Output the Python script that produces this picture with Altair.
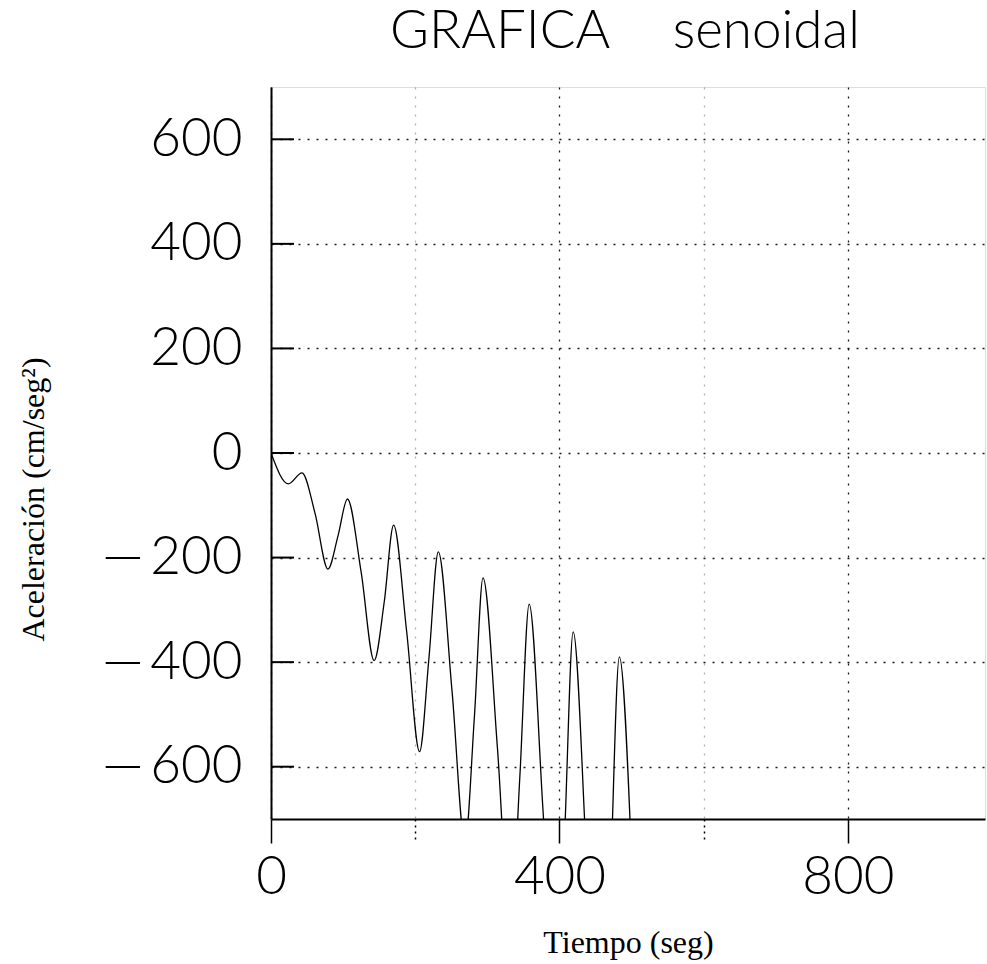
import altair as alt
import pandas as pd

# values (troughs below -700 are estimated; they are clipped)
t_seg = [0, 24, 43, 61, 79, 93, 106, 125, 143, 157, 170, 188, 206, 219, 232, 251,
         269, 282, 294, 314, 332, 345, 358, 377, 395, 407, 419, 438, 457, 470, 483, 500]
acel = [0, -59, -38, -115, -222, -158, -88, -228, -397, -285, -138, -340, -571, -392, -189, -455,
        -745, -505, -239, -565, -915, -620, -289, -680, -1090, -735, -342, -790, -1265, -845, -390, -775]

x_grid = [0, 200, 400, 600, 800]
y_ticks = [-600, -400, -200, 0, 200, 400, 600]
chart_title = ["GRAFICA\u00a0\u00a0\u00a0\u00a0\u2009senoidal"]

df = pd.DataFrame({"t": t_seg, "a": acel})
ticks_df = pd.DataFrame({"v": y_ticks})
title_df = pd.DataFrame({"label": chart_title})

FONT = "Lato"
SERIF = "Liberation Serif"

x_scale = alt.Scale(domain=[0, 990], nice=False, zero=False)
y_scale = alt.Scale(domain=[-700, 700], nice=False, zero=False)

x_axis = alt.Axis(
    values=x_grid,
    grid=True, gridColor="black", gridDash=[2, 7], gridWidth=1.3,
    gridOpacity={"condition": {"test": "datum.value % 400 === 0", "value": 0.9}, "value": 0.3},
    labelExpr="datum.value % 400 === 0 ? datum.label : ''",
    labelFont=FONT, labelFontWeight=300, labelFontSize=53, labelColor="black",
    labelBaseline="top", labelPadding=8, labelFlush=False, labelOverlap=False,
    tickSize=24, tickColor="black", tickWidth=1.5,
    tickDash={"condition": {"test": "datum.value % 400 === 0", "value": [1, 0]}, "value": [2, 4]},
    domain=True, domainColor="black", domainWidth=2,
    title="Tiempo (seg)", titleFont=SERIF, titleFontSize=32, titleFontWeight="normal",
    titleColor="black", titleBaseline="alphabetic", titleY=133,
)

y_axis = alt.Axis(
    values=y_ticks,
    grid=True, gridColor="black", gridDash=[2, 7], gridWidth=1.3, gridOpacity=0.9,
    ticks=False, labelPadding=29,
    labelExpr="datum.value < 0 ? '\u2014\u2009' + format(-datum.value, 'd') : datum.label",
    labelFont=FONT, labelFontWeight=300, labelFontSize=53, labelColor="black",
    labelBaseline="middle", labelFlush=False, labelOverlap=False,
    domain=True, domainColor="black", domainWidth=2,
    title="Aceleración (cm/seg²)", titleFont=SERIF, titleFontSize=32, titleFontWeight="normal",
    titleColor="black", titleAngle=270, titleAlign="center", titleBaseline="alphabetic",
    titleX=-228, titleY=412,
)

line = alt.Chart(df).mark_line(
    color="black", strokeWidth=1.3, interpolate="monotone", clip=True
).encode(
    x=alt.X("t:Q", scale=x_scale, axis=x_axis),
    y=alt.Y("a:Q", scale=y_scale, axis=y_axis),
)

inner_ticks = alt.Chart(ticks_df).mark_rule(color="black", strokeWidth=2).encode(
    x=alt.value(0), x2=alt.value(23),
    y=alt.Y("v:Q", scale=y_scale),
)

title_text = alt.Chart(title_df).mark_text(
    font=FONT, fontSize=53, fontWeight=300, color="black",
    align="center", baseline="alphabetic",
).encode(
    text="label:N", x=alt.value(354), y=alt.value(-39),
)

chart = alt.layer(line, inner_ticks, title_text).properties(
    width=714, height=732,
    autosize=alt.AutoSizeParams(type="none"),
    padding={"left": 271, "top": 87, "right": 2, "bottom": 145},
).configure_view(stroke="black", strokeWidth=2).configure(background="white")

chart.save("out.html", embed_options={"renderer": "svg", "actions": False})
